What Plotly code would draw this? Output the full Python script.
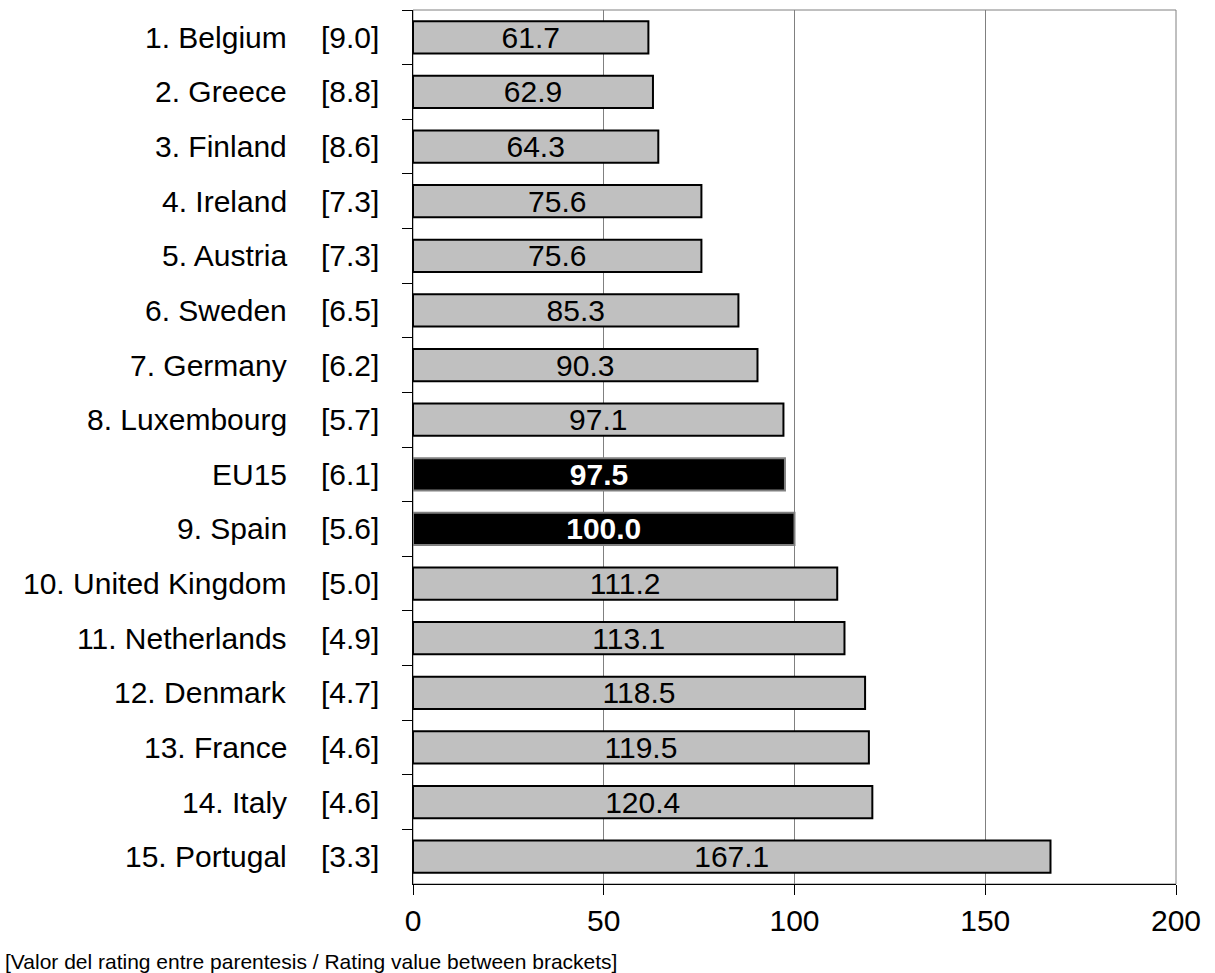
import plotly.graph_objects as go

countries = ["1. Belgium", "2. Greece", "3. Finland", "4. Ireland", "5. Austria",
             "6. Sweden", "7. Germany", "8. Luxembourg", "EU15", "9. Spain",
             "10. United Kingdom", "11. Netherlands", "12. Denmark", "13. France",
             "14. Italy", "15. Portugal"]
ratings = ["9.0", "8.8", "8.6", "7.3", "7.3", "6.5", "6.2", "5.7", "6.1", "5.6",
           "5.0", "4.9", "4.7", "4.6", "4.6", "3.3"]
index_values = [61.7, 62.9, 64.3, 75.6, 75.6, 85.3, 90.3, 97.1, 97.5, 100.0,
                111.2, 113.1, 118.5, 119.5, 120.4, 167.1]
highlighted = ["EU15", "9. Spain"]
x_ticks = [0, 50, 100, 150, 200]
footnote = "[Valor del rating entre parentesis / Rating value between brackets]"

FONT = "Liberation Sans, Arial, sans-serif"
W, H = 1215, 973
L, R, T, B = 413, 39, 10, 89
plot_w = W - L - R

is_hl = [c in highlighted for c in countries]
fill = ["#000000" if h else "#C0C0C0" for h in is_hl]
line_col = ["#808080" if h else "#000000" for h in is_hl]
txt_col = ["#FFFFFF" if h else "#000000" for h in is_hl]
labels = [f"<b>{v:.1f}</b>" if h else f"{v:.1f}" for v, h in zip(index_values, is_hl)]

fig = go.Figure()
fig.add_trace(go.Bar(
    x=index_values, y=countries, orientation="h",
    marker=dict(color=fill, line=dict(color=line_col, width=2)),
    text=labels, textposition="inside", insidetextanchor="middle",
    constraintext="none", cliponaxis=False,
    textfont=dict(family=FONT, size=30, color=txt_col),
    hoverinfo="skip",
))

annotations = []
for c, r in zip(countries, ratings):
    annotations.append(dict(x=(289 - L) / plot_w, xref="paper", y=c, yref="y",
                            text=c, showarrow=False, xanchor="right", yanchor="middle",
                            font=dict(family=FONT, size=30, color="#000000")))
    annotations.append(dict(x=(381 - L) / plot_w, xref="paper", y=c, yref="y",
                            text=f"[{r}]", showarrow=False, xanchor="right", yanchor="middle",
                            font=dict(family=FONT, size=30, color="#000000")))
annotations.append(dict(x=(3 - L) / plot_w, xref="paper", y=-(961 - (H - B)) / (H - T - B), yref="paper",
                        text=footnote, showarrow=False, xanchor="left", yanchor="middle",
                        font=dict(family=FONT, size=21, color="#000000")))

fig.update_layout(
    width=W, height=H,
    margin=dict(l=L, r=R, t=T, b=B, pad=0),
    paper_bgcolor="white", plot_bgcolor="white",
    showlegend=False, bargap=0.41,
    annotations=annotations,
    font=dict(family=FONT, size=30, color="#000000"),
    shapes=[dict(type="rect", xref="paper", yref="paper", x0=0, x1=1, y0=0, y1=1,
                 line=dict(color="#808080", width=1), layer="below")],
)
fig.update_xaxes(
    range=[0, 200], tickvals=x_ticks, ticktext=[str(v) for v in x_ticks],
    showgrid=True, gridcolor="#808080", gridwidth=1,
    showline=True, linecolor="#000000", linewidth=1,
    ticks="outside", ticklen=10, tickcolor="#000000",
    tickfont=dict(family=FONT, size=30, color="#000000"),
    zeroline=False, fixedrange=True,
)
fig.update_yaxes(
    type="category", categoryorder="array", categoryarray=countries,
    autorange="reversed", tickson="boundaries",
    showticklabels=False, showgrid=False,
    showline=True, linecolor="#000000", linewidth=1,
    ticks="outside", ticklen=10, tickcolor="#000000",
    zeroline=False, fixedrange=True,
)

fig.write_html("out.html")
